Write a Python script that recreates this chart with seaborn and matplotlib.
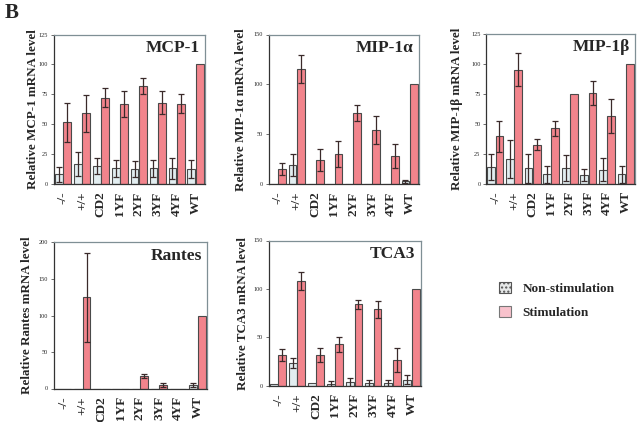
import matplotlib
matplotlib.use("Agg")
import matplotlib.pyplot as plt
from matplotlib.patches import Patch
import seaborn as sns
import pandas as pd

groups = ['-/-', '+/+', 'CD2', '1YF', '2YF', '3YF', '4YF', 'WT']
conditions = ['Non-stimulation', 'Stimulation']

mcp1_non = [8, 17, 15, 13, 12.5, 13, 13, 12.5]
mcp1_non_err = [6, 10, 7, 7, 7, 7, 9, 7.5]
mcp1_stim = [51.5, 59, 72, 67, 82, 68, 67, 100]
mcp1_stim_err = [16, 15.5, 8, 11, 7, 9.5, 8, 0]

mip1a_non = [0, 18.7, 0, 0, 0, 0, 0, 3]
mip1a_non_err = [0, 11, 0, 0, 0, 0, 0, 1.5]
mip1a_stim = [15.4, 115.4, 24, 30, 71, 54, 28, 100]
mip1a_stim_err = [6, 14, 11, 13, 8, 14, 12, 0]

mip1b_non = [13.6, 20.3, 12.8, 7.8, 12.8, 7.2, 11.7, 7.8]
mip1b_non_err = [11, 16, 12, 7, 11, 5, 10, 7]
mip1b_stim = [39.6, 95.3, 32.6, 46, 75.2, 76, 56.3, 100]
mip1b_stim_err = [13, 14, 5, 6, 0, 10, 14, 0]

rantes_non = [0, 0, 0, 0, 0, 0, 0, 5]
rantes_non_err = [0, 0, 0, 0, 0, 0, 0, 2.5]
rantes_stim = [0, 124.7, 0, 0, 17.4, 4.6, 0, 100]
rantes_stim_err = [0, 61, 0, 0, 2.5, 2.5, 0, 0]

tca3_non = [1.7, 23, 2.1, 2, 3.4, 2.4, 2.4, 6.2]
tca3_non_err = [0, 5, 0, 3, 4.5, 3.4, 3, 4.5]
tca3_stim = [31.3, 108, 31.6, 42.6, 83.8, 78.7, 26, 100]
tca3_stim_err = [6, 9.5, 7, 8, 4.5, 9, 12.5, 0]

panels = [
    ('MCP-1', mcp1_non, mcp1_non_err, mcp1_stim, mcp1_stim_err, 125, 25),
    ('MIP-1α', mip1a_non, mip1a_non_err, mip1a_stim, mip1a_stim_err, 150, 50),
    ('MIP-1β', mip1b_non, mip1b_non_err, mip1b_stim, mip1b_stim_err, 125, 25),
    ('Rantes', rantes_non, rantes_non_err, rantes_stim, rantes_stim_err, 200, 50),
    ('TCA3', tca3_non, tca3_non_err, tca3_stim, tca3_stim_err, 150, 50),
]

sns.set_style('white')
plt.rcParams['font.family'] = ['Liberation Serif', 'DejaVu Serif']
plt.rcParams['font.weight'] = 'bold'

W, H = 640, 422
fig = plt.figure(figsize=(6.4, 4.22), dpi=100)

# pixel boxes: left, top, right, bottom
boxes = [(53.5, 34.5, 205, 184), (268.5, 34.5, 419, 184), (486, 34, 635, 183.5),
         (53.5, 242.5, 207, 388.5), (268.5, 240.5, 421, 385.5)]
label_x = [-0.095, -0.14, -0.155, -0.135, -0.13]

non_color = '#e2edf0'
stim_color = '#f2848c'

for (name, nv, ne, sv, se, ymax, step), (l, t, r, b), lx in zip(panels, boxes, label_x):
    ax = fig.add_axes([l / W, 1 - b / H, (r - l) / W, (b - t) / H])
    df = pd.DataFrame({
        'group': groups * 2,
        'cond': [conditions[0]] * 8 + [conditions[1]] * 8,
        'value': list(nv) + list(sv),
    })
    sns.barplot(data=df, x='group', y='value', hue='cond', order=groups,
                hue_order=conditions, palette=[non_color, stim_color],
                saturation=1, width=0.88, gap=0.06, edgecolor='#4a4a4a',
                linewidth=0.8, errorbar=None, legend=False, ax=ax)
    for cont, errs in zip(ax.containers, [ne, se]):
        for bar, e in zip(cont.patches, errs):
            if e > 0:
                ax.errorbar(bar.get_x() + bar.get_width() / 2, bar.get_height(),
                            yerr=e, fmt='none', ecolor='#3a2a2a', elinewidth=0.9,
                            capsize=2.0, capthick=0.9)
    ax.set_ylim(0, ymax)
    ax.set_xlim(-0.5, 7.5)
    ax.set_yticks(range(0, ymax + 1, step))
    ax.tick_params(axis='y', left=True, length=2.5, width=0.6, labelsize=4.5, pad=1.5,
                   color='#555555')
    ax.tick_params(axis='x', bottom=False, labelsize=9.5, pad=2, rotation=90)
    for lab in ax.get_xticklabels():
        lab.set_fontweight('bold')
    for lab in ax.get_yticklabels():
        lab.set_fontweight('normal')
    ax.set_xlabel('')
    ax.set_ylabel(f'Relative {name} mRNA level', fontsize=9.4, fontweight='bold')
    ax.yaxis.set_label_coords(lx, 0.5)
    for sp in ax.spines.values():
        sp.set_visible(True)
        sp.set_color('#7f8f95')
        sp.set_linewidth(0.9)
    ax.spines['left'].set_color('#333333')
    ax.spines['bottom'].set_color('#333333')
    ax.text(0.965, 0.965, name, transform=ax.transAxes, ha='right', va='top',
            fontsize=12.5, fontweight='bold')

handles = [Patch(facecolor='#e6e8e8', edgecolor='#555555', linewidth=0.8, hatch='....'),
           Patch(facecolor='#f8c2cc', edgecolor='#777777', linewidth=0.8)]
fig.legend(handles, conditions, loc='upper left', bbox_to_anchor=(487 / W, 1 - 270 / H),
           frameon=False, handlelength=0.9, handleheight=0.9,
           handletextpad=0.9, labelspacing=0.85, prop={'weight': 'bold', 'size': 9.5})

fig.text(5 / W, 1 - 3 / H, 'B', fontsize=15, fontweight='bold', va='top', ha='left')

fig.savefig('out.png', dpi=100)
